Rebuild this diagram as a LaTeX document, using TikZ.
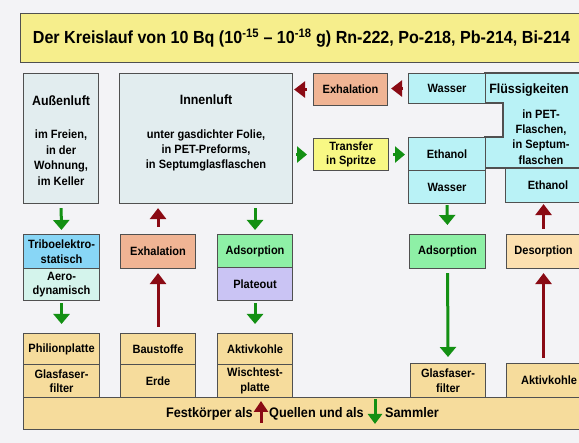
\documentclass[tikz,border=0pt]{standalone}
\usepackage{fontspec}
\setmainfont[FakeStretch=0.92]{Liberation Sans}
\usetikzlibrary{arrows.meta,positioning}

\definecolor{hintergrund}{HTML}{F3F3F6}
\definecolor{rahmen}{HTML}{505050}
\definecolor{titelgelb}{HTML}{F6EE8C}
\definecolor{luftgrau}{HTML}{E2EDEF}
\definecolor{fluessig}{HTML}{B9F2F6}
\definecolor{lachs}{HTML}{F0B494}
\definecolor{spritzgelb}{HTML}{F8F884}
\definecolor{tribo}{HTML}{88D6F6}
\definecolor{aero}{HTML}{D4F4EC}
\definecolor{adsgruen}{HTML}{8EF0A6}
\definecolor{plateout}{HTML}{CAC4F4}
\definecolor{desorp}{HTML}{FCE0B0}
\definecolor{fest}{HTML}{F6DC9C}
\definecolor{pfeilgruen}{HTML}{139013}
\definecolor{pfeilrot}{HTML}{8A0A14}

\begin{document}
\begin{tikzpicture}[x=1pt, y=-1pt,
        kasten/.style={draw=rahmen, line width=1.1pt, inner sep=0pt, align=center,
            anchor=north west, font=\fontsize{12}{14.5}\selectfont\bfseries},
        gruenpfeil/.style={draw=pfeilgruen, line width=3pt, -{Triangle[width=16pt,length=10pt]}},
        rotpfeil/.style={draw=pfeilrot, line width=3pt, -{Triangle[width=16pt,length=11pt]}},
        festtext/.style={inner sep=0pt, font=\fontsize{13.8}{16}\selectfont\bfseries}
    ]

    % Hintergrund und Seitengroesse
    \useasboundingbox (0,0) rectangle (579,443);
    \fill[hintergrund] (0,0) rectangle (579,443);

    % Titel
    \node[kasten, fill=titelgelb, minimum width=562, minimum height=49,
        font=\fontsize{17.5}{19}\selectfont\bfseries] (titel) at (20,13)
        {Der Kreislauf von 10 Bq (10\textsuperscript{-15} – 10\textsuperscript{-18} g) Rn-222, Po-218, Pb-214, Bi-214};

    % Luft
    \node[kasten, fill=luftgrau, minimum width=75, minimum height=130] (aussen) at (23,73) {};
    \node[align=center, font=\fontsize{12}{15.5}\selectfont\bfseries] (aussentext) at ([yshift=-2pt]aussen.center)
        {{\fontsize{13.5}{15.5}\selectfont Außenluft}\\[17.5pt]im Freien,\\in der\\Wohnung,\\im Keller};
    \node[kasten, fill=luftgrau, minimum width=173, minimum height=130] (innen) at (119,73) {};
    \node[align=center, font=\fontsize{12}{15}\selectfont\bfseries] (innentext) at ([yshift=6pt]innen.center)
        {{\fontsize{13.5}{15}\selectfont Innenluft}\\[19pt]unter gasdichter Folie,\\in PET-Preforms,\\in Septumglasflaschen};

    % Exhalation und Transfer
    \node[kasten, fill=lachs, minimum width=74, minimum height=32] (exhA) at (313,73) {Exhalation};
    \node[kasten, fill=spritzgelb, minimum width=75, minimum height=32] (transfer) at (313,138) {Transfer\\in Spritze};

    % Fluessigkeiten
    \draw[draw=rahmen, line width=1.1pt, fill=fluessig] (485,73) -- (590,73) -- (590,168) -- (485,168)
        -- (485,137) -- (503,137) -- (503,103) -- (485,103) -- cycle;
    \node[font=\fontsize{13.5}{15}\selectfont\bfseries] (fluesstitel) at (529,90) {Flüssigkeiten};
    \node[align=center, font=\fontsize{12}{15.3}\selectfont\bfseries] (fluesstext) at (541,137)
        {in PET-\\Flaschen,\\in Septum-\\flaschen};
    \node[kasten, fill=fluessig, minimum width=77, minimum height=30] (wasserA) at (408,73) {Wasser};
    \node[kasten, fill=fluessig, minimum width=77, minimum height=33] (ethanolA) at (408,137) {Ethanol};
    \node[kasten, fill=fluessig, minimum width=77, minimum height=33] (wasserB) at (408,170) {Wasser};
    \node[kasten, fill=fluessig, minimum width=85, minimum height=34] (ethanolB) at (505,168) {Ethanol};

    % mittlere Reihe
    \node[kasten, fill=tribo, minimum width=76, minimum height=34] (tribo) at (23,234) {Triboelektro-\\statisch};
    \node[kasten, fill=aero, minimum width=76, minimum height=32] (aero) at (23,268) {Aero-\\dynamisch};
    \node[kasten, fill=lachs, minimum width=75, minimum height=34] (exhB) at (120,234) {Exhalation};
    \node[kasten, fill=adsgruen, minimum width=75, minimum height=33] (adsA) at (217,234) {Adsorption};
    \node[kasten, fill=plateout, minimum width=75, minimum height=33] (plate) at (217,267) {Plateout};
    \node[kasten, fill=adsgruen, minimum width=76, minimum height=34] (adsB) at (409,234) {Adsorption};
    \node[kasten, fill=desorp, minimum width=74, minimum height=34] (desorp) at (506,234) {Desorption};

    % Festkoerper
    \node[kasten, fill=fest, minimum width=570, minimum height=32] (basis) at (23,397) {};
    \node[kasten, fill=fest, minimum width=76, minimum height=31] (philion) at (23,333) {Philionplatte};
    \node[kasten, fill=fest, minimum width=76, minimum height=33] (glasA) at (23,364) {Glasfaser-\\filter};
    \node[kasten, fill=fest, minimum width=75, minimum height=31] (baust) at (120,333) {Baustoffe};
    \node[kasten, fill=fest, minimum width=75, minimum height=33] (erde) at (120,364) {Erde};
    \node[kasten, fill=fest, minimum width=75, minimum height=31] (aktivA) at (217,333) {Aktivkohle};
    \node[kasten, fill=fest, minimum width=75, minimum height=33] (wisch) at (217,364) {Wischtest-\\platte};
    \node[kasten, fill=fest, minimum width=75, minimum height=34] (glasB) at (410,363) {Glasfaser-\\filter};
    \node[kasten, fill=fest, minimum width=85, minimum height=34] (aktivB) at (506,363) {Aktivkohle};

    % Text der Festkoerperleiste mit Pfeilen
    \node[festtext, anchor=base east] (festA) at (253,418) {Festkörper als};
    \node[festtext, anchor=base west] (festB) at (269,418) {Quellen und als};
    \node[festtext, anchor=base west] (festC) at (385,418) {Sammler};
    \coordinate (quelleU) at (261,423);
    \coordinate (quelleO) at (261,401);
    \coordinate (sammlerO) at (375,399);
    \coordinate (sammlerU) at (375,424);
    \draw[rotpfeil, -{Triangle[width=14pt,length=11pt]}] (quelleU) -- (quelleO);
    \draw[gruenpfeil, -{Triangle[width=14pt,length=10pt]}] (sammlerO) -- (sammlerU);

    % Pfeile links
    \draw[gruenpfeil, shorten <=4pt, shorten >=4pt] (aussen.south) -- (tribo.north);
    \draw[gruenpfeil, shorten <=2pt, shorten >=9pt] (aero.south) -- (philion.north);
    \draw[rotpfeil, shorten <=7pt, shorten >=4pt] (exhB.north) -- (exhB.north |- innen.south);
    \draw[rotpfeil, shorten <=6pt, shorten >=4pt] (baust.north) -- (exhB.south);
    \draw[gruenpfeil, shorten <=4pt, shorten >=4pt] (adsA.north |- innen.south) -- (adsA.north);
    \draw[gruenpfeil, shorten <=2pt, shorten >=9pt] (plate.south) -- (aktivA.north);

    % Pfeile oben
    \draw[rotpfeil, shorten <=6pt, shorten >=1pt] (exhA.west) -- (exhA.west -| innen.east);
    \draw[rotpfeil, shorten <=5pt, shorten >=3pt] (wasserA.west) -- (wasserA.west -| exhA.east);
    \draw[gruenpfeil, shorten <=3pt, shorten >=6pt] (transfer.west -| innen.east) -- (transfer.west);
    \draw[gruenpfeil, shorten <=4pt, shorten >=3pt] (transfer.east) -- (transfer.east -| ethanolA.west);

    % Pfeile rechts
    \draw[gruenpfeil, shorten <=1pt, shorten >=9pt] (wasserB.south) -- (adsB.north);
    \draw[gruenpfeil, shorten <=4pt, shorten >=6pt] (adsB.south) -- (glasB.north);
    \draw[rotpfeil, shorten <=5pt, shorten >=1pt] (desorp.north) -- (desorp.north |- ethanolB.south);
    \draw[rotpfeil, shorten <=5pt, shorten >=4pt] (desorp.south |- aktivB.north) -- (desorp.south);

\end{tikzpicture}
\end{document}
